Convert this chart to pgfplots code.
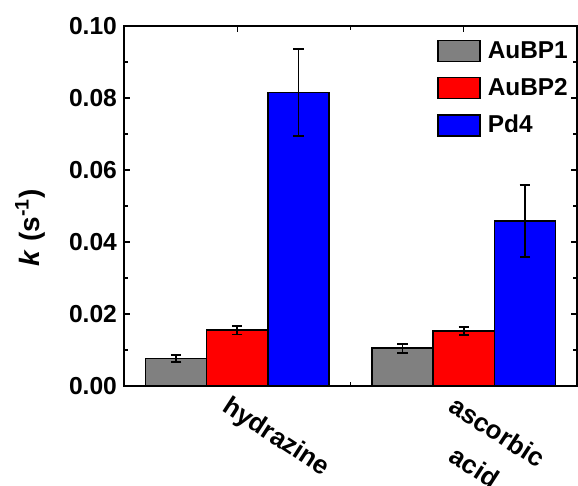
\documentclass[border=0pt]{standalone}
\usepackage{pgfplots}
\pgfplotsset{compat=1.18}
\usepackage{fontspec}
\setmainfont{Liberation Sans}
\pgfplotsset{
  mylegend/.style={legend image code/.code={\draw[##1,draw=black,line width=0.7pt] (0pt,-5.25pt) rectangle (21pt,5.25pt);}},
  myerr/.style={error bars/.cd, y dir=both, y explicit,
    error bar style={black, line width=0.9pt},
    error mark options={rotate=90, mark size=2.6pt, black, line width=0.9pt}},
}
\begin{document}
\begin{tikzpicture}
\begin{axis}[name=ax, at={(0,0)}, anchor=south west,
  scale only axis, width=226.5pt, height=180pt,
  xmin=0.5, xmax=2.5, ymin=0, ymax=0.10,
  axis line style={line width=0.6pt},
  xtick={1,2}, xticklabels={hydrazine, {ascorbic\\[6pt]acid}},
  minor xtick={1.5},
  ytick={0,0.02,0.04,0.06,0.08,0.10},
  minor ytick={0.01,0.03,0.05,0.07,0.09},
  major tick length=3pt, minor tick length=2pt,
  tick style={line width=0.6pt, black},
  /pgf/number format/assume math mode=true,
  yticklabel style={/pgf/number format/.cd, fixed, fixed zerofill, precision=2},
  ticklabel style={font=\bfseries\fontsize{12.3}{14}\selectfont},
  xticklabel style={font=\bfseries\fontsize{13}{15}\selectfont, inner sep=0pt, align=center, xshift=-3pt, yshift=-4pt, rotate=-33, anchor=north west},
  scaled y ticks=false,
  ylabel={\textbf{\textit{k} (s\textsuperscript{-1})}},
  ylabel style={font=\bfseries\fontsize{14}{16}\selectfont, at={(rel axis cs:-0.2075,0.44)}, anchor=center},
  legend style={at={(0.691,0.964)}, anchor=north west, draw=none, fill=none, inner sep=0pt,
    font=\bfseries\fontsize{12.2}{13}\selectfont, row sep=6.5pt, column sep=2.5pt,
    nodes={inner sep=1pt}},
  legend cell align=left,
]
\addplot[ybar, bar width=0.27, bar shift=0, fill={rgb,255:red,128;green,128;blue,128}, draw=black, line width=0.7pt, mylegend, myerr]
  coordinates {(0.73,0.0076) +- (0,0.0010) (1.73,0.0105) +- (0,0.00125)};
\addplot[ybar, bar width=0.27, bar shift=0, fill={rgb,255:red,255;green,0;blue,0}, draw=black, line width=0.7pt, mylegend, myerr]
  coordinates {(1,0.0155) +- (0,0.0012) (2,0.0153) +- (0,0.00115)};
\addplot[ybar, bar width=0.27, bar shift=0, fill={rgb,255:red,0;green,0;blue,255}, draw=black, line width=0.7pt, mylegend, myerr]
  coordinates {(1.27,0.0815) +- (0,0.0120) (2.27,0.0458) +- (0,0.0100)};
\legend{AuBP1, AuBP2, Pd4}
\end{axis}
\pgfresetboundingbox
\path ([shift={(-62pt,-50pt)}]ax.south west) rectangle ([shift={(0.5pt,13pt)}]ax.north east);
\end{tikzpicture}
\end{document}
